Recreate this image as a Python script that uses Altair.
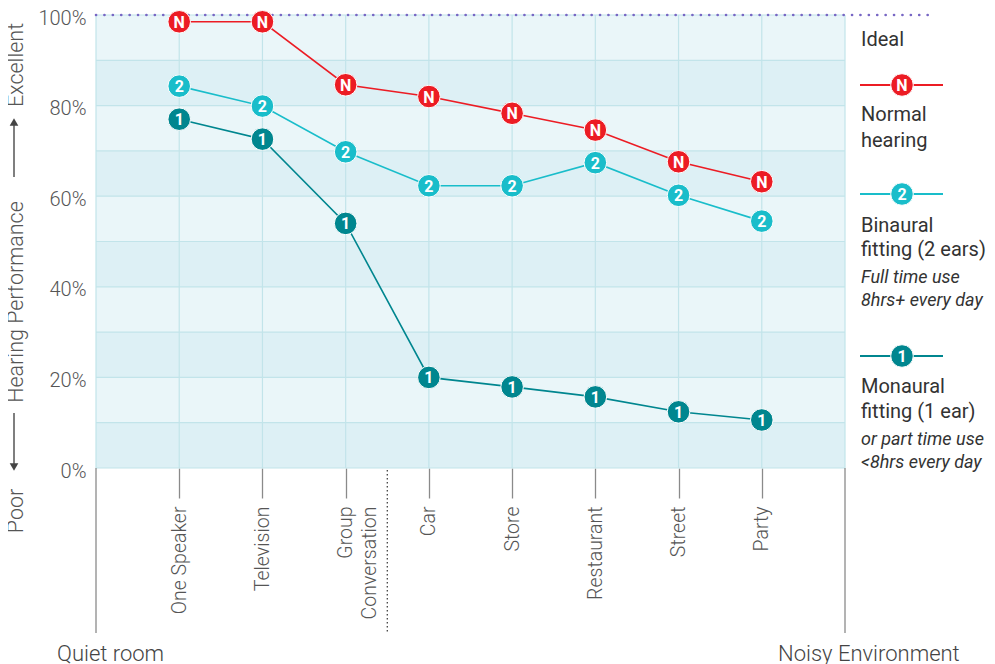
import json
import altair as alt
import pandas as pd

# ---------------- data ----------------
categories = ["One Speaker", "Television", "Group Conversation", "Car",
              "Store", "Restaurant", "Street", "Party"]
label_lines = {"Group Conversation": ["Group", "Conversation"]}
normal = [98.5, 98.5, 84.6, 82.0, 78.3, 74.6, 67.6, 63.2]
binaural = [84.3, 79.9, 69.8, 62.3, 62.3, 67.4, 60.2, 54.5]
monaural = [77.0, 72.6, 54.0, 20.0, 17.9, 15.7, 12.4, 10.6]
series_names = ["Normal hearing", "Binaural fitting", "Monaural fitting"]
series_marks = ["N", "2", "1"]
series_colors = ["#ec1c24", "#19bdca", "#00868f"]
ideal_value = [100]
grid_values = [0, 10, 20, 30, 40, 50, 60, 70, 80, 90, 100]
y_label_values = [0, 20, 40, 60, 80, 100]
dark_band_starts = [0, 20, 40, 60, 80]
band_height = 10
quiet_end = "Quiet room"
noisy_end = "Noisy Environment"
y_title_parts = ["Excellent", "Hearing Performance", "Poor"]
legend_main = [("Ideal", 0), ("Normal", 1), ("hearing", 1), ("Binaural", 2),
               ("fitting (2 ears)", 2), ("Monaural", 3), ("fitting (1 ear)", 3)]
legend_notes = [("Full time use", 2), ("8hrs+ every day", 2),
                ("or part time use", 3), ("<8hrs every day", 3)]

# ---------------- layout / style ----------------
W, H = 749, 453
FONT = "Roboto"
n = len(categories)
xdom = [0, n + 1]
xs = alt.Scale(domain=xdom, nice=False, zero=False)
ys = alt.Scale(domain=[0, 100], nice=False, zero=False)

arr = [label_lines.get(c, c) for c in categories]
x_axis = alt.Axis(values=list(range(1, n + 1)),
                  labelExpr=f"{json.dumps(arr)}[datum.value - 1]",
                  labelAngle=270, labelAlign="right", labelBaseline="middle",
                  labelPadding=8, labelFontSize=19.5, labelFont=FONT,
                  labelFontWeight=300, labelColor="#555555", labelLineHeight=24,
                  tickSize=30, tickColor="#8a8a8a", tickWidth=1.3,
                  domain=False, grid=False, title=None, labelOverlap=False)
y_axis = alt.Axis(values=y_label_values, labelExpr="datum.value + '%'",
                  ticks=False, domain=False, grid=False, title=None,
                  labelPadding=10, labelFontSize=20, labelFont=FONT,
                  labelFontWeight=300, labelColor="#555555", labelOffset=3)

X = lambda f: alt.X(f, type="quantitative", scale=xs, axis=x_axis)
Y = lambda f: alt.Y(f, type="quantitative", scale=ys, axis=y_axis)

# background bands
bands = pd.DataFrame({"y0": dark_band_starts,
                      "y1": [b + band_height for b in dark_band_starts]})
bg = alt.Chart(bands).mark_rect(color="#ddf0f5").encode(
    y=Y("y0"), y2="y1", x=alt.value(0), x2=alt.value(W))

hgrid = alt.Chart(pd.DataFrame({"v": grid_values})).mark_rule(
    color="#c2e4ea", strokeWidth=1.2).encode(
    y=Y("v"), x=alt.value(0), x2=alt.value(W))

vgrid = alt.Chart(pd.DataFrame({"i": list(range(0, n + 2))})).mark_rule(
    color="#c2e4ea", strokeWidth=1.2).encode(
    x=X("i"), y=alt.value(0), y2=alt.value(H))

edges = alt.Chart(pd.DataFrame({"i": xdom})).mark_rule(
    color="#8a8a8a", strokeWidth=1.3).encode(
    x=X("i"), y=alt.value(H), y2=alt.value(H + 165))

div_pos = (categories.index("Group Conversation") + 1 + categories.index("Car") + 1) / 2
divider = alt.Chart(pd.DataFrame({"i": [div_pos]})).mark_rule(
    color="#333333", strokeWidth=1.2, strokeDash=[1.5, 2.5]).encode(
    x=X("i"), y=alt.value(H + 2), y2=alt.value(H + 165))

ideal = alt.Chart(pd.DataFrame({"v": ideal_value})).mark_rule(
    color="#7766c4", strokeWidth=2.6, strokeDash=[0.1, 8.3], strokeCap="round").encode(
    y=Y("v"), x=alt.value(0), x2=alt.value(836))

rows = []
for name, mk, vals in zip(series_names, series_marks, [normal, binaural, monaural]):
    for i, (c, v) in enumerate(zip(categories, vals)):
        rows.append({"series": name, "mk": mk, "cat": c, "i": i + 1, "value": v})
df = pd.DataFrame(rows)
color = alt.Color("series:N", scale=alt.Scale(domain=series_names, range=series_colors),
                  legend=None)

lines = alt.Chart(df).mark_line(strokeWidth=1.6).encode(
    x=X("i"), y=Y("value"), color=color, detail="series:N", order="i:Q")
dots = alt.Chart(df).mark_circle(size=510, opacity=1, stroke="white",
                                 strokeWidth=1).encode(
    x=X("i"), y=Y("value"), color=color)
dot_text = alt.Chart(df).mark_text(color="white", font=FONT, fontWeight="bold",
                                   fontSize=16, baseline="middle", dy=1).encode(
    x=X("i"), y=Y("value"), text="mk:N")

# ---------------- legend ----------------
leg_x0, leg_x1, leg_cx, leg_tx = 764, 847, 806, 765
leg_line_y = [70, 179, 341]
main_y = [25, 100, 126, 211, 235, 372, 397]
note_y = [263, 286, 425, 448]

leg_layers = []
for k, (name, mk, col) in enumerate(zip(series_names, series_marks, series_colors)):
    ly = leg_line_y[k]
    leg_layers.append(alt.Chart(pd.DataFrame({"s": [name]})).mark_rule(
        color=col, strokeWidth=2.2).encode(
        x=alt.value(leg_x0), x2=alt.value(leg_x1), y=alt.value(ly)))
    leg_layers.append(alt.Chart(pd.DataFrame({"s": [name]})).mark_circle(
        size=510, opacity=1, color=col, stroke="white", strokeWidth=1).encode(
        x=alt.value(leg_cx), y=alt.value(ly)))
    leg_layers.append(alt.Chart(pd.DataFrame({"t": [mk]})).mark_text(
        color="white", font=FONT, fontWeight="bold", fontSize=16,
        baseline="middle", dy=1).encode(
        x=alt.value(leg_cx), y=alt.value(ly), text="t:N"))

for (txt, _), yy in zip(legend_main, main_y):
    leg_layers.append(alt.Chart(pd.DataFrame({"t": [txt]})).mark_text(
        align="left", baseline="middle", font=FONT, fontSize=20,
        color="#333333").encode(x=alt.value(leg_tx), y=alt.value(yy), text="t:N"))
for (txt, _), yy in zip(legend_notes, note_y):
    leg_layers.append(alt.Chart(pd.DataFrame({"t": [txt]})).mark_text(
        align="left", baseline="middle", font=FONT, fontSize=18, fontStyle="italic",
        color="#333333").encode(x=alt.value(leg_tx), y=alt.value(yy), text="t:N"))

# ---------------- y title with arrows ----------------
ttl_x = -79
ttl_y = [50, 287, 496]
ann = []
for txt, yy in zip(y_title_parts, ttl_y):
    ann.append(alt.Chart(pd.DataFrame({"t": [txt]})).mark_text(
        angle=270, align="center", baseline="middle", font=FONT, fontSize=21.5,
        fontWeight=300, color="#555555").encode(
        x=alt.value(ttl_x), y=alt.value(yy), text="t:N"))
arrow_x = -82
ann.append(alt.Chart(pd.DataFrame({"a": [1]})).mark_rule(
    color="#555555", strokeWidth=1.5).encode(
    x=alt.value(arrow_x), y=alt.value(108), y2=alt.value(162)))
ann.append(alt.Chart(pd.DataFrame({"a": [1]})).mark_point(
    shape="triangle-up", filled=True, size=75, opacity=1, color="#444444").encode(
    x=alt.value(arrow_x), y=alt.value(107)))
ann.append(alt.Chart(pd.DataFrame({"a": [1]})).mark_rule(
    color="#555555", strokeWidth=1.5).encode(
    x=alt.value(arrow_x), y=alt.value(398), y2=alt.value(451)))
ann.append(alt.Chart(pd.DataFrame({"a": [1]})).mark_point(
    shape="triangle-down", filled=True, size=75, opacity=1, color="#444444").encode(
    x=alt.value(arrow_x), y=alt.value(452)))

ends = []
for txt, xx in [(quiet_end, -39), (noisy_end, 682)]:
    ends.append(alt.Chart(pd.DataFrame({"t": [txt]})).mark_text(
        align="left", baseline="middle", font=FONT, fontSize=22, fontWeight=300,
        color="#444444").encode(x=alt.value(xx), y=alt.value(639), text="t:N"))

chart = alt.layer(bg, hgrid, vgrid, edges, divider, ideal, lines, dots, dot_text,
                  *leg_layers, *ann, *ends).properties(
    width=W, height=H,
    autosize=alt.AutoSizeParams(type="none"),
    padding={"left": 88, "top": 7, "right": 142, "bottom": 200},
    background="white",
).configure_view(strokeWidth=0, fill="#eaf6f9")

chart.save("out.html", embed_options={"renderer": "svg", "actions": False})
